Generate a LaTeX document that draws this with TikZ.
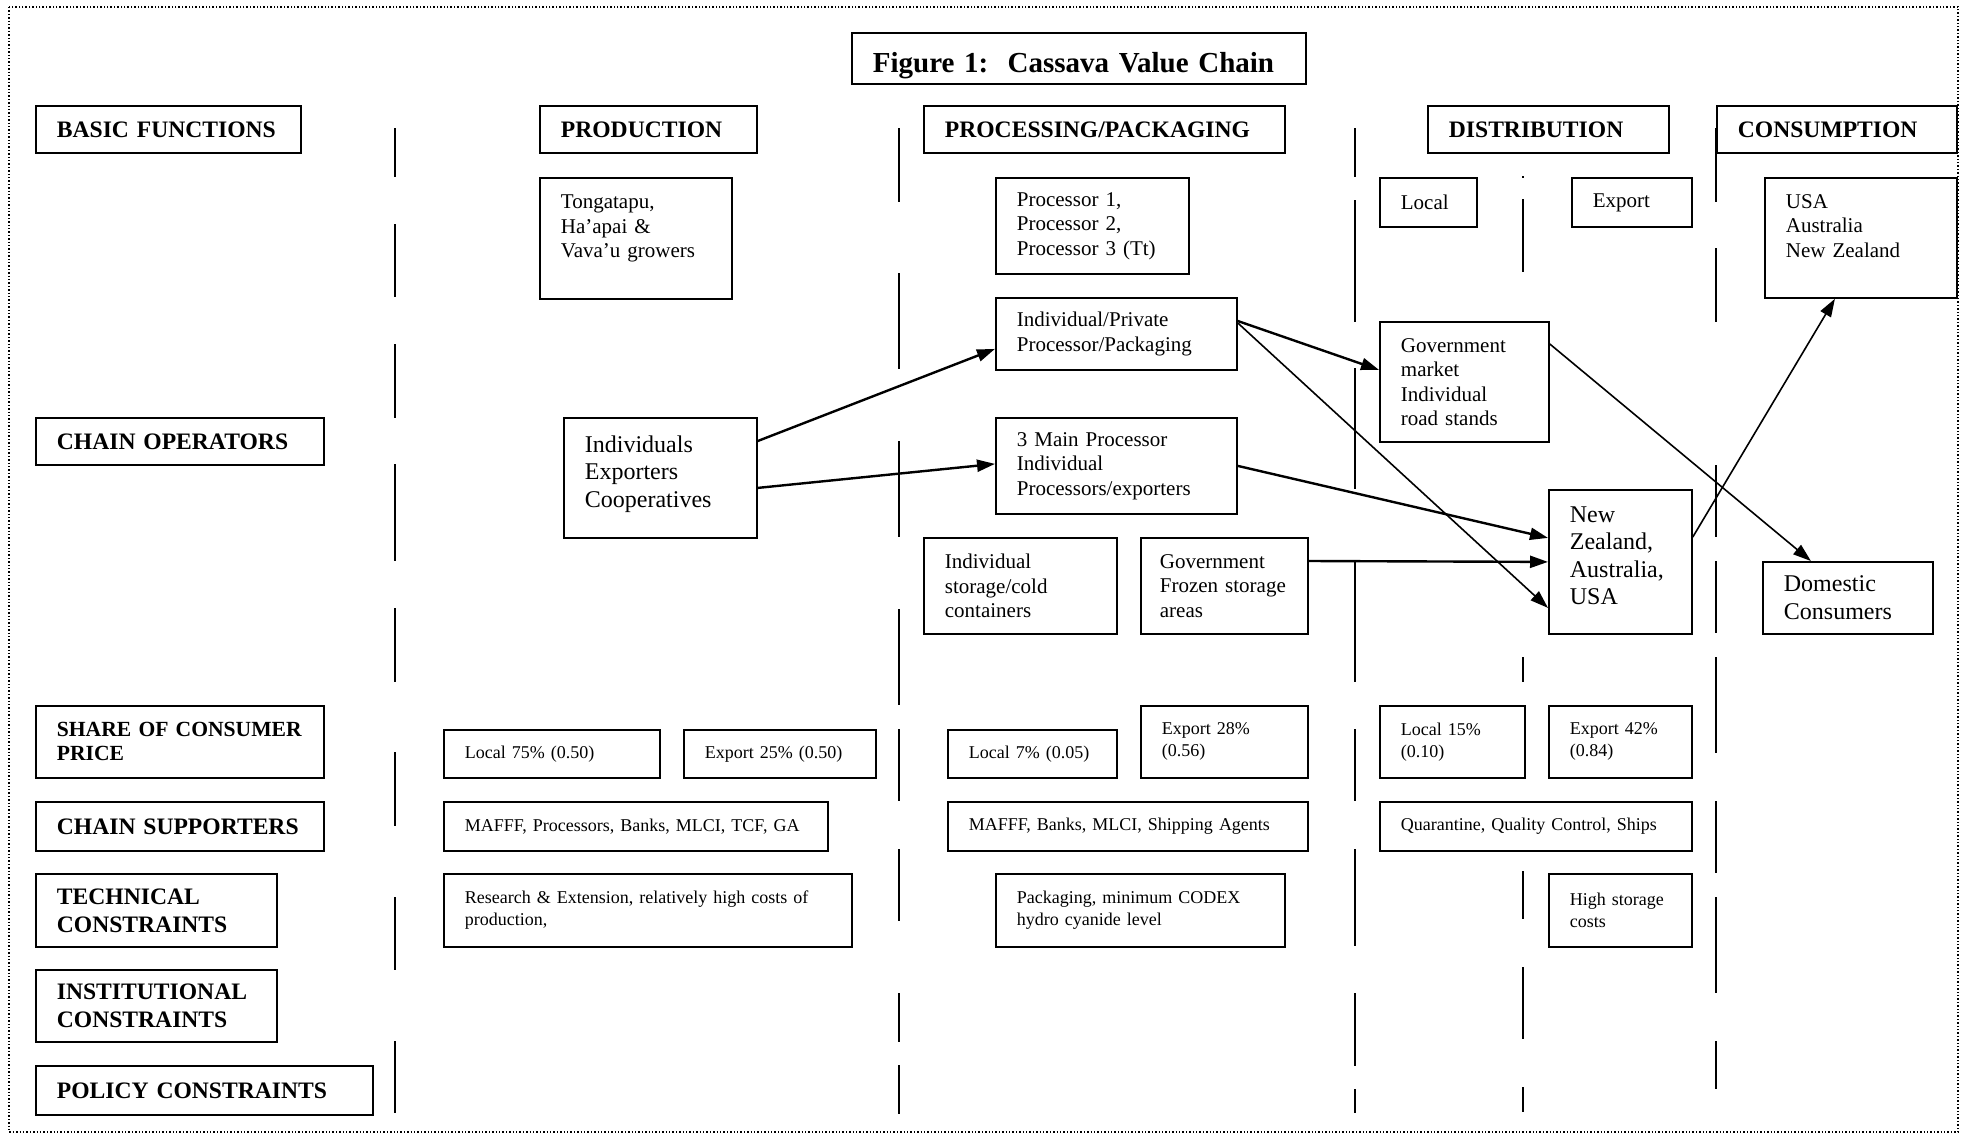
\documentclass[tikz,border=0pt]{standalone}
\usepackage{fontspec}
\setmainfont{Liberation Serif}
\usepackage{tikz}
\usetikzlibrary{calc}
\usetikzlibrary{arrows.meta}

\begin{document}
\begin{tikzpicture}[x=0.5pt,y=-0.5pt]
\tikzstyle{hd}=[draw,line width=0.9pt,anchor=north west,align=left,inner xsep=10.5pt,inner ysep=0pt,font=\bfseries\fontsize{11.8}{14}\selectfont]
\tikzstyle{bx}=[draw,line width=0.9pt,anchor=north west,align=left,inner xsep=10.5pt,inner ysep=0pt,font=\fontsize{10.5}{12.25}\selectfont]
\tikzstyle{bigbx}=[bx,font=\fontsize{12}{13.8}\selectfont]
\tikzstyle{smbx}=[bx,font=\fontsize{9}{11}\selectfont]
\tikzstyle{arr}=[-{Triangle[length=9pt,width=6pt]},line width=1.2pt]
\tikzstyle{tarr}=[arr,line width=0.8pt]
\tikzstyle{divline}=[line width=1pt]

\useasboundingbox (0,0) rectangle (1966,1135);
\draw[densely dotted,line width=0.7pt] (9,7) rectangle (1958,1132);
%
\foreach \a/\b in {128/177,224/297,344/418,464/561,608/682,752/826,897/970,1041/1113}
  \draw[divline] (395,\a) -- (395,\b);
\foreach \a/\b in {128/202,273/369,441/537,609/705,729/801,849/921,993/1042,1065/1114}
  \draw[divline] (899,\a) -- (899,\b);
\foreach \a/\b in {128/177,200/322,368/489,561/682,729/801,849/946,993/1066,1089/1113}
  \draw[divline] (1355,\a) -- (1355,\b);
\foreach \a/\b in {176/178,199/272,657/682,871/919,967/1039,1087/1112}
  \draw[divline] (1523,\a) -- (1523,\b);
\foreach \a/\b in {128/202,248/322,465/537,561/633,657/753,801/873,897/993,1041/1089}
  \draw[divline] (1716,\a) -- (1716,\b);
%
\node[hd,minimum width=227pt,minimum height=25.5pt,text width=206pt,text height=14pt,text depth=0pt,font=\bfseries\fontsize{14.5}{16}\selectfont] (title) at (851,32) {Figure 1:\ \ Cassava Value Chain};
%
\node[hd,minimum height=23.5pt,text width=111.5pt] (basicfn) at (35,105) {BASIC FUNCTIONS};
\node[hd,minimum height=23.5pt,text width=87.5pt] (prod) at (539,105) {PRODUCTION};
\node[hd,minimum height=23.5pt,text width=159.5pt] (proc) at (923,105) {PROCESSING/PACKAGING};
\node[hd,minimum height=23.5pt,text width=99.5pt] (dist) at (1427,105) {DISTRIBUTION};
\node[hd,minimum height=23.5pt,text width=99pt] (cons) at (1716,105) {CONSUMPTION};
%
\node[bx,minimum height=60.5pt,text width=75pt] (growers) at (539,177) {Tongatapu,\\Ha’apai \&\\Vava’u growers\\\mbox{}};
\node[bx,minimum height=48pt,text width=75.5pt] (procs) at (995,177) {Processor 1,\\Processor 2,\\Processor 3 (Tt)};
\node[bx,minimum height=24.5pt,text width=27.5pt] (dlocal) at (1379,177) {Local};
\node[bx,minimum height=24.5pt,text width=39pt] (dexport) at (1571,177) {Export};
\node[bx,minimum height=60pt,text width=75pt] (markets) at (1764,177) {USA\\Australia\\New Zealand\\\mbox{}};
%
\node[hd,minimum height=23.5pt,text width=123pt] (chainop) at (35,417) {CHAIN OPERATORS};
\node[bigbx,minimum height=60pt,text width=75.5pt] (indiv) at (563,417) {Individuals\\Exporters\\Cooperatives\\[-7.5pt]\mbox{}};
\node[bx,minimum height=36pt,text width=99.5pt] (privproc) at (995,297) {Individual/Private\\Processor/Packaging};
\node[bx,minimum height=48pt,text width=99.5pt] (mainproc) at (995,417) {3 Main Processor\\Individual\\Processors/exporters};
\node[bx,minimum height=48pt,text width=75.5pt] (coldstore) at (923,537) {Individual\\storage/cold\\containers};
\node[bx,minimum height=48pt,text width=64.5pt,inner xsep=9.5pt] (frozen) at (1140,537) {Government\\Frozen storage\\areas};
\node[bx,minimum height=60pt,text width=63.5pt] (govmkt) at (1379,321) {Government\\market\\Individual\\road stands};
\node[bigbx,minimum height=72pt,text width=50.5pt] (nzaus) at (1548,489) {New\\Zealand,\\Australia,\\USA\\[-7.5pt]\mbox{}};
\node[bigbx,minimum height=36pt,text width=64pt] (domcons) at (1762,561) {Domestic\\Consumers};
%
\node[hd,minimum height=36pt,text width=123pt,font=\bfseries\fontsize{10.8}{12}\selectfont] (sharehd) at (35,705) {\mbox{SHARE OF CONSUMER}\\PRICE};
\node[smbx,minimum height=24pt,text width=87pt] (plocal) at (443,729) {Local 75\% (0.50)};
\node[smbx,minimum height=24pt,text width=75pt] (pexport) at (683,729) {Export 25\% (0.50)};
\node[smbx,minimum height=24pt,text width=63.5pt] (klocal) at (947,729) {Local 7\% (0.05)};
\node[smbx,minimum height=36pt,text width=62.5pt] (kexport) at (1140,705) {Export 28\%\\(0.56)};
\node[smbx,minimum height=36pt,text width=51.5pt] (dlshare) at (1379,705) {Local 15\%\\(0.10)};
\node[smbx,minimum height=36pt,text width=50.5pt] (deshare) at (1548,705) {Export 42\%\\(0.84)};
%
\node[hd,minimum height=24.5pt,text width=123pt] (supphd) at (35,801) {CHAIN SUPPORTERS};
\node[smbx,minimum height=24.5pt,text width=171pt] (sprod) at (443,801) {MAFFF, Processors, Banks, MLCI, TCF, GA};
\node[smbx,minimum height=24.5pt,text width=159pt] (sproc) at (947,801) {MAFFF, Banks, MLCI, Shipping Agents};
\node[smbx,minimum height=24.5pt,text width=135pt] (sdist) at (1379,801) {Quarantine, Quality Control, Ships};
%
\node[hd,minimum height=36.5pt,text width=99.5pt] (techhd) at (35,873) {TECHNICAL\\CONSTRAINTS};
\node[smbx,minimum height=36.5pt,text width=183pt] (tprod) at (443,873) {Research \& Extension, relatively high costs of\\production,};
\node[smbx,minimum height=36.5pt,text width=123.5pt] (tproc) at (995,873) {Packaging, minimum CODEX\\hydro cyanide level};
\node[smbx,minimum height=36.5pt,text width=50.5pt] (tdist) at (1548,873) {High storage\\costs};
%
\node[hd,minimum height=36pt,text width=99.5pt] (insthd) at (35,969) {INSTITUTIONAL\\CONSTRAINTS};
\node[hd,minimum height=24.5pt,text width=147.5pt] (polhd) at (35,1065) {POLICY CONSTRAINTS};
%
\draw[arr] ([yshift=-12pt]indiv.north east) -- ([yshift=-7.5pt]privproc.west);
\draw[arr] ([yshift=-5pt]indiv.east) -- ([yshift=1pt]mainproc.west);
\draw[arr] ([yshift=-12pt]privproc.north east) -- ([yshift=6pt]govmkt.west);
\draw[tarr] ([yshift=-13pt]privproc.north east) -- ([yshift=-23pt]nzaus.west);
\draw[arr] (mainproc.east) -- ([yshift=12pt]nzaus.west);
\draw[arr] ([yshift=-12pt]frozen.north east) -- (nzaus.west);
\draw[tarr] ([yshift=-11.5pt]govmkt.north east) -- ([xshift=-18.5pt]domcons.north);
\draw[tarr] ([yshift=-24pt]nzaus.north east) -- ([xshift=-13pt]markets.south);
\end{tikzpicture}
\end{document}
